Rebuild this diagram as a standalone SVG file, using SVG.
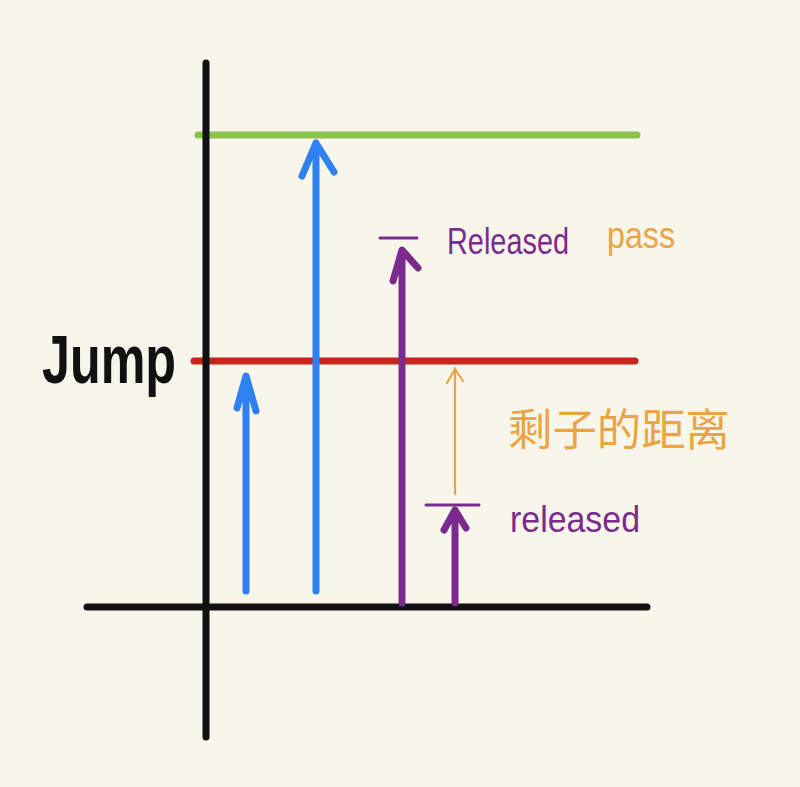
<svg xmlns="http://www.w3.org/2000/svg" width="800" height="787" viewBox="0 0 800 787">
<style>
.ln{fill:none;stroke-linecap:round;stroke-linejoin:round}
.ax{stroke:#111;stroke-width:7}
.blue{stroke:#2F80F0;stroke-width:7}
.purple{stroke:#7B2A8E;stroke-width:7}
.bar{stroke:#7B2A8E;stroke-width:3}
.orange{stroke:#EBA444;stroke-width:2.2}
.t{font-family:"Liberation Sans","Noto Sans CJK SC",sans-serif}
</style>
<rect width="800" height="787" fill="#F8F5EA"/>
<g id="connectors">
<line id="green-line" class="ln" x1="198" y1="135" x2="637" y2="135" stroke="#8CC24B" stroke-width="7"/>
<line id="red-line" class="ln" x1="194" y1="361" x2="635" y2="361" stroke="#C4261C" stroke-width="7"/>
<line id="y-axis" class="ln ax" x1="206" y1="63" x2="206" y2="737"/>
<line id="x-axis" class="ln ax" x1="87" y1="607" x2="647" y2="607"/>
<path class="ln blue" d="M246 591 V377 M237 408 L246 376 L256 411"/>
<path class="ln blue" d="M316 591 V144 M302 176 L316 143 L334 172"/>
<path class="ln purple" d="M402 603 V251 M393 281 L402 250 L418 268"/>
<line class="ln bar" x1="380" y1="238" x2="417" y2="238"/>
<path class="ln purple" d="M455 603 V511 M444 530 L455 510 L466 528"/>
<line class="ln bar" x1="426" y1="505" x2="479" y2="505"/>
<path class="ln orange" d="M455 494 V368 M447 383 L455 369 L463 381"/>
</g>
<g id="jump"><text class="t" x="42" y="383" font-size="68" font-weight="bold" fill="#111" textLength="134" lengthAdjust="spacingAndGlyphs">Jump</text></g>
<g id="released-top"><text class="t" x="447" y="254" font-size="36" fill="#7B2A8E" textLength="122" lengthAdjust="spacingAndGlyphs">Released</text></g>
<g id="pass"><text class="t" x="607" y="248" font-size="36" fill="#EBA444" textLength="68" lengthAdjust="spacingAndGlyphs">pass</text></g>
<g id="remaining"><text class="t" x="508" y="446" font-size="44" fill="#EBA444" textLength="222" lengthAdjust="spacingAndGlyphs">剩子的距离</text></g>
<g id="released-bottom"><text class="t" x="510" y="532" font-size="36" fill="#7B2A8E" textLength="130" lengthAdjust="spacingAndGlyphs">released</text></g>
</svg>
